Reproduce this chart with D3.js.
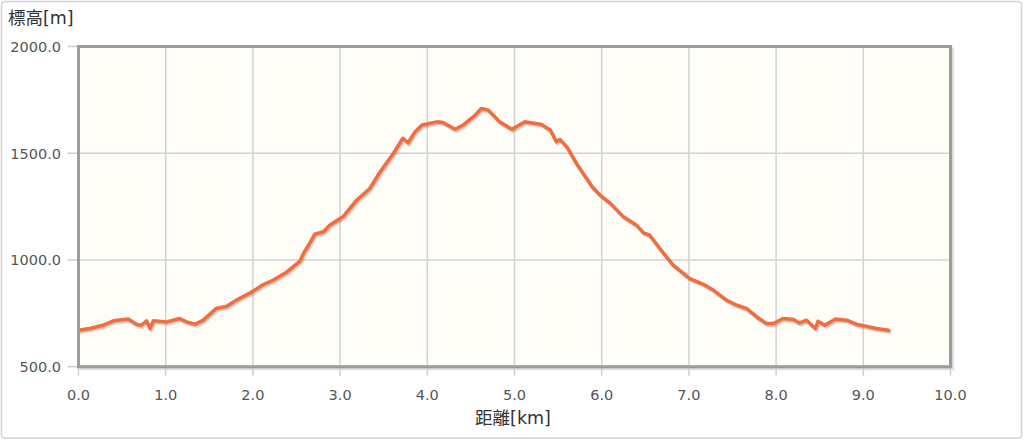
<!DOCTYPE html>
<html><head><meta charset="utf-8">
<script src="https://cdn.jsdelivr.net/npm/d3@7"></script>
<style>
html,body{margin:0;padding:0;background:#fff;}
svg{display:block;}
</style></head>
<body>
<svg id="c" width="1024" height="441"></svg>
<script>
const distanceKm = [0.0,0.13,0.28,0.40,0.57,0.67,0.72,0.78,0.82,0.86,1.01,1.16,1.24,1.34,1.43,1.58,1.70,1.81,1.97,2.12,2.23,2.39,2.54,2.58,2.65,2.71,2.81,2.88,3.04,3.19,3.34,3.46,3.61,3.72,3.78,3.86,3.94,4.11,4.18,4.32,4.41,4.55,4.62,4.70,4.83,4.97,5.12,5.31,5.41,5.48,5.52,5.60,5.71,5.89,5.98,6.10,6.25,6.40,6.48,6.55,6.71,6.82,7.01,7.16,7.28,7.43,7.55,7.66,7.78,7.89,7.97,8.08,8.20,8.27,8.35,8.45,8.48,8.56,8.68,8.81,8.92,9.03,9.15,9.29];
const elevationM = [671,679,694,715,723,698,694,715,679,715,710,726,710,699,718,773,783,812,846,885,905,944,995,1031,1078,1121,1132,1163,1205,1280,1335,1413,1499,1570,1549,1601,1632,1647,1644,1612,1632,1679,1710,1702,1647,1612,1647,1635,1609,1554,1565,1530,1452,1343,1304,1265,1202,1163,1127,1116,1031,976,913,887,859,812,788,773,733,702,702,726,721,705,718,679,713,694,723,718,699,690,679,671];
const xTicks = [0,1,2,3,4,5,6,7,8,9,10];
const yTicks = [500,1000,1500,2000];
const yTitleCJK = "標高", yTitleUnit = "[m]";
const xTitleCJK = "距離", xTitleUnit = "[km]";

const svg = d3.select("#c");
const L = 78.5, R = 950.5, T = 46.5, B = 366.7;
const x = d3.scaleLinear().domain([0,10]).range([L,R]);
const y = d3.scaleLinear().domain([500,2000]).range([B,T]);

// outer frame
svg.append("rect").attr("x",1.5).attr("y",1.5).attr("width",1020).attr("height",436.5)
  .attr("rx",3).attr("fill","#fff").attr("stroke","#d4d4d4").attr("stroke-width",1.5);

// plot shadow
[[3,0.06],[2,0.08],[1,0.1]].forEach(([o,a])=>{
  svg.append("rect").attr("x",L+o).attr("y",T+o).attr("width",R-L).attr("height",B-T)
    .attr("fill","none").attr("stroke",`rgba(0,0,0,${a})`).attr("stroke-width",2);
});
svg.append("rect").attr("x",L).attr("y",T).attr("width",R-L).attr("height",B-T)
  .attr("fill","#fffdf7");

// grid
const g = svg.append("g");
g.selectAll("line.vx").data(xTicks.slice(1,-1)).join("line")
  .attr("x1",d=>x(d)).attr("x2",d=>x(d)).attr("y1",T).attr("y2",B)
  .attr("stroke","#d3d3d3").attr("stroke-width",1.5);
g.selectAll("line.hy").data(yTicks.slice(1,-1)).join("line")
  .attr("y1",d=>y(d)).attr("y2",d=>y(d)).attr("x1",L).attr("x2",R)
  .attr("stroke","#d3d3d3").attr("stroke-width",1.5);

// ticks outside
g.selectAll("line.tx").data(xTicks).join("line")
  .attr("x1",d=>x(d)).attr("x2",d=>x(d)).attr("y1",B).attr("y2",B+9)
  .attr("stroke","#cfcfcf").attr("stroke-width",1.5);
g.selectAll("line.ty").data(yTicks).join("line")
  .attr("y1",d=>y(d)).attr("y2",d=>y(d)).attr("x1",L-11).attr("x2",L)
  .attr("stroke","#cfcfcf").attr("stroke-width",1.5);

// line
const pts = distanceKm.map((d,i)=>[d,elevationM[i]]);
const line = d3.line().x(d=>x(d[0])).y(d=>y(d[1]));
[[2.6,0.05],[1.9,0.08],[1.2,0.1]].forEach(([o,a])=>{
  svg.append("path").attr("d",line(pts)).attr("transform",`translate(${o*0.7},${o})`)
    .attr("fill","none").attr("stroke",`rgba(0,0,0,${a})`).attr("stroke-width",3.5)
    .attr("stroke-linejoin","round").attr("stroke-linecap","round");
});
svg.append("path").attr("d",line(pts)).attr("fill","none").attr("stroke","#f26d3d")
  .attr("stroke-width",3.5).attr("stroke-linejoin","round").attr("stroke-linecap","round");

// border
svg.append("rect").attr("x",L).attr("y",T).attr("width",R-L).attr("height",B-T)
  .attr("fill","none").attr("stroke","#9d9d9d").attr("stroke-width",3);

// labels
const font = "'DejaVu Sans', sans-serif";
const cjk = "'Noto Sans CJK JP', sans-serif";
svg.selectAll("text.yl").data(yTicks).join("text")
  .attr("x",61).attr("y",d=>y(d)+5.5).attr("text-anchor","end")
  .attr("font-family",font).attr("font-size",14.5).attr("fill","#555")
  .text(d=>d.toFixed(1));
svg.selectAll("text.xl").data(xTicks).join("text")
  .attr("x",d=>x(d)).attr("y",400).attr("text-anchor","middle")
  .attr("font-family",font).attr("font-size",14.5).attr("fill","#555")
  .text(d=>d.toFixed(1));
const yt = svg.append("text").attr("x",8).attr("y",24).attr("font-size",17.5).attr("fill","#333");
yt.append("tspan").attr("font-family",cjk).text(yTitleCJK);
yt.append("tspan").attr("font-family",font).text(yTitleUnit);
const xt = svg.append("text").attr("x",513).attr("y",424).attr("text-anchor","middle")
  .attr("font-size",17.5).attr("fill","#333");
xt.append("tspan").attr("font-family",cjk).text(xTitleCJK);
xt.append("tspan").attr("font-family",font).text(xTitleUnit);
</script>
</body></html>
